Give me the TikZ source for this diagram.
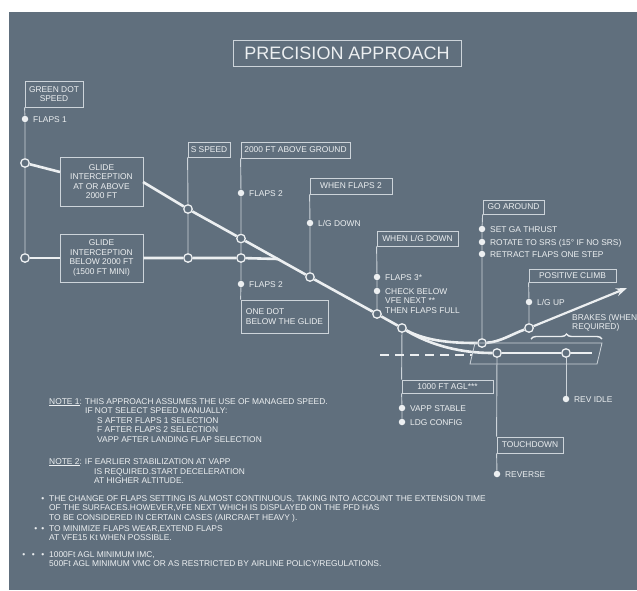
\documentclass[tikz,border=0pt]{standalone}
\usepackage{fontspec}
\setmainfont{Liberation Sans}
\usetikzlibrary{positioning,arrows.meta,decorations.pathreplacing}
\definecolor{panel}{RGB}{96,111,125}
\definecolor{ink}{RGB}{236,239,241}
\definecolor{frame}{RGB}{205,212,218}

\begin{document}
\begin{tikzpicture}[x=1pt,y=-1pt,
    lbl/.style={inner sep=0pt,text=ink,font=\fontsize{8.4}{9.7}\selectfont,text height=6pt,text depth=0pt},
    multi/.style={inner sep=0pt,text=ink,font=\fontsize{8.4}{9.7}\selectfont,align=left},
    tag/.style={draw=frame,line width=0.8pt,text=ink,inner sep=0pt,align=center,font=\fontsize{8.4}{9.5}\selectfont},
    ring/.style={circle,draw=ink,line width=1.3pt,fill=panel,inner sep=0pt,minimum size=8.5pt},
    dot/.style={circle,fill=ink,inner sep=0pt,minimum size=6.5pt},
    glide/.style={draw=ink,line width=2.6pt},
    stem/.style={draw=frame,line width=0.9pt}]
  \useasboundingbox (0,0) rectangle (637,590);
  \fill[white] (0,0) rectangle (637,590);
  \fill[panel] (9,12) rectangle (637,590);

  \node[tag,font=\fontsize{18}{20}\selectfont,minimum width=228pt,minimum height=26pt] (title) at (347,53) {PRECISION APPROACH};

  \node[tag,minimum width=58pt,minimum height=26pt] (gds) at (54,94) {GREEN DOT\\SPEED};
  \node[tag,minimum width=83pt,minimum height=49pt] (glideA) at (101.5,181.5) {GLIDE\\INTERCEPTION\\AT OR ABOVE\\2000 FT};
  \node[tag,minimum width=83pt,minimum height=48pt] (glideB) at (101.5,258) {GLIDE\\INTERCEPTION\\BELOW 2000 FT\\(1500 FT MINI)};
  \node[tag,minimum width=42pt,minimum height=15pt] (sspd) at (209,149.5) {S SPEED};
  \node[tag,minimum width=109pt,minimum height=16pt] (agnd) at (295.5,150) {2000 FT ABOVE GROUND};
  \node[tag,minimum width=82pt,minimum height=16pt] (wfl2) at (351,186) {WHEN FLAPS 2};
  \node[tag,minimum width=81pt,minimum height=15pt] (wlgd) at (417.5,238.5) {WHEN L/G DOWN};
  \node[tag,minimum width=87pt,minimum height=33pt,align=left] (onedot) at (284.5,316.5) {ONE DOT\\BELOW THE GLIDE};
  \node[tag,minimum width=91pt,minimum height=13pt] (agl) at (447.5,386.5) {1000 FT AGL***};
  \node[tag,minimum width=61pt,minimum height=14pt] (goar) at (513.5,207) {GO AROUND};
  \node[tag,minimum width=87pt,minimum height=13pt] (posc) at (572.5,275.5) {POSITIVE CLIMB};
  \node[tag,minimum width=66pt,minimum height=16pt] (tdwn) at (530,445) {TOUCHDOWN};

  \node[ring] (c1) at (25,163) {};
  \node[ring] (c2) at (25,258) {};
  \node[ring] (s1) at (188,209) {};
  \node[ring] (s2) at (188,258) {};
  \node[ring] (a1) at (241,238.5) {};
  \node[ring] (a2) at (241,258) {};
  \node[ring] (lg) at (310,277) {};
  \node[ring] (f3) at (377,314) {};
  \node[ring] (k1) at (402,328) {};
  \node[ring] (gar) at (482,343) {};
  \node[ring] (pcl) at (529,328) {};
  \node[ring] (tdn) at (497,353) {};
  \node[ring] (rev) at (566,353) {};

  \node[dot] (f1) at (25,119) {};
  \node[lbl,right=4.5pt of f1] {FLAPS 1};
  \node[dot] (fl2a) at (241,193) {};
  \node[lbl,right=4.5pt of fl2a] {FLAPS 2};
  \node[dot] (fl2b) at (241,284) {};
  \node[lbl,right=4.5pt of fl2b] {FLAPS 2};
  \node[dot] (lgd) at (310,223) {};
  \node[lbl,right=4.5pt of lgd] {L/G DOWN};
  \node[dot] (fl3) at (377,277) {};
  \node[lbl,right=4.5pt of fl3] {FLAPS 3*};
  \node[dot] (chk) at (377,291) {};
  \node[multi,anchor=north west] at ([xshift=4.5pt,yshift=3pt]chk.east) {CHECK BELOW\\VFE NEXT **\\THEN FLAPS FULL};
  \node[dot] (sga) at (482,229) {};
  \node[lbl,right=4.5pt of sga] {SET GA THRUST};
  \node[dot] (rot) at (482,242) {};
  \node[lbl,right=4.5pt of rot] {ROTATE TO SRS (15° IF NO SRS)};
  \node[dot] (ret) at (482,254) {};
  \node[lbl,right=4.5pt of ret] {RETRACT FLAPS ONE STEP};
  \node[dot] (lgu) at (529,302) {};
  \node[lbl,right=4.5pt of lgu] {L/G UP};
  \node[dot] (vapp) at (402,408) {};
  \node[lbl,right=4.5pt of vapp] {VAPP STABLE};
  \node[dot] (ldg) at (402,422) {};
  \node[lbl,right=4.5pt of ldg] {LDG CONFIG};
  \node[dot] (revd) at (497,474) {};
  \node[lbl,right=4.5pt of revd] {REVERSE};
  \node[dot] (idle) at (566,399) {};
  \node[lbl,right=4.5pt of idle] {REV IDLE};
  \node[multi,anchor=north west] (brk) at (572,314) {BRAKES (WHEN\\REQUIRED)};

  \draw[stem] (gds.south west) -- (f1) -- (c1) -- (c2);
  \draw[stem] (sspd.south west) -- (s1) -- (s2);
  \draw[stem] (agnd.south west) -- (fl2a) -- (a1) -- (a2) -- (fl2b) -- (onedot.north west);
  \draw[stem] (wfl2.south west) -- (lgd) -- (lg);
  \draw[stem] (wlgd.south west) -- (fl3) -- (chk) -- (f3);
  \draw[stem] (k1) -- (agl.north west);
  \draw[stem] (agl.south west) -- (vapp) -- (ldg);
  \draw[stem] (goar.south west) -- (sga) -- (rot) -- (ret) -- (gar);
  \draw[stem] (posc.south west) -- (lgu) -- (pcl);
  \draw[stem] (tdn) -- (tdwn.north west);
  \draw[stem] (tdwn.south west) -- (revd);
  \draw[stem] (rev) -- (idle);

  \coordinate (gaIn) at (60,172);
  \coordinate (gaOut) at (143,182);
  \coordinate (join) at (278,259);
  \coordinate (climbEnd) at (627,288);
  \coordinate (rwEnd) at (592,353);
  \coordinate (dashL) at (380,355);
  \coordinate (dashR) at (472,355);
  \coordinate (brL) at (531,339);
  \coordinate (brR) at (602,339);

  \draw[glide] (c1) -- (gaIn);
  \draw[glide] (gaOut) -- (s1) -- (a1) -- (lg) -- (f3) -- (k1);
  \draw[glide] (c2) -- (glideB.west);
  \draw[glide] (glideB.east) -- (s2) -- (a2) -- (join);
  \draw[glide] (k1) .. controls (428,342) and (456,343) .. (gar);
  \draw[glide] (gar) .. controls (500,342) and (512,334) .. (pcl);
  \draw[ink,line width=2.2pt,-{Stealth[length=11pt,width=8pt]}] (pcl) -- (climbEnd);
  \draw[glide] (k1) .. controls (432,346) and (462,353) .. (tdn);
  \draw[glide] (tdn) -- (rev) -- (rwEnd);
  \draw[ink,line width=1.3pt,dash pattern=on 9pt off 6pt] (dashL) -- (dashR);
  \draw[frame,line width=0.8pt] (475,343) -- (602,343) -- (597,364) -- (470,364) -- cycle;
  \draw[ink,line width=1.4pt,decorate,decoration={brace,amplitude=5pt}] (brL) -- (brR);

  \node[lbl,anchor=west] (n1) at (49,401) {\underline{NOTE 1}: THIS APPROACH ASSUMES THE USE OF MANAGED SPEED.};
  \node[lbl,anchor=west] (n1b) at (85,410) {IF NOT SELECT SPEED MANUALLY:};
  \node[multi,anchor=north west] (n1c) at (97,417) {S AFTER FLAPS 1 SELECTION\\F AFTER FLAPS 2 SELECTION\\VAPP AFTER LANDING FLAP SELECTION};
  \node[lbl,anchor=west] (n2) at (49,461) {\underline{NOTE 2}: IF EARLIER STABILIZATION AT VAPP};
  \node[multi,anchor=north west] (n2b) at (94,468) {IS REQUIRED.START DECELERATION\\AT HIGHER ALTITUDE.};
  \node[multi,anchor=north west] (ft1) at (49,495) {\llap{•\hspace{5pt}}THE CHANGE OF FLAPS SETTING IS ALMOST CONTINUOUS, TAKING INTO ACCOUNT THE EXTENSION TIME\\OF THE SURFACES.HOWEVER,VFE NEXT WHICH IS DISPLAYED ON THE PFD HAS\\TO BE CONSIDERED IN CERTAIN CASES (AIRCRAFT HEAVY ).};
  \node[multi,anchor=north west] (ft2) at (49,525) {\llap{•\hspace{4pt}•\hspace{5pt}}TO MINIMIZE FLAPS WEAR,EXTEND FLAPS\\AT VFE15 Kt WHEN POSSIBLE.};
  \node[multi,anchor=north west] (ft3) at (49,551) {\llap{•\hspace{6.5pt}•\hspace{6.5pt}•\hspace{5pt}}1000Ft AGL MINIMUM IMC,\\500Ft AGL MINIMUM VMC OR AS RESTRICTED BY AIRLINE POLICY/REGULATIONS.};
\end{tikzpicture}
\end{document}
